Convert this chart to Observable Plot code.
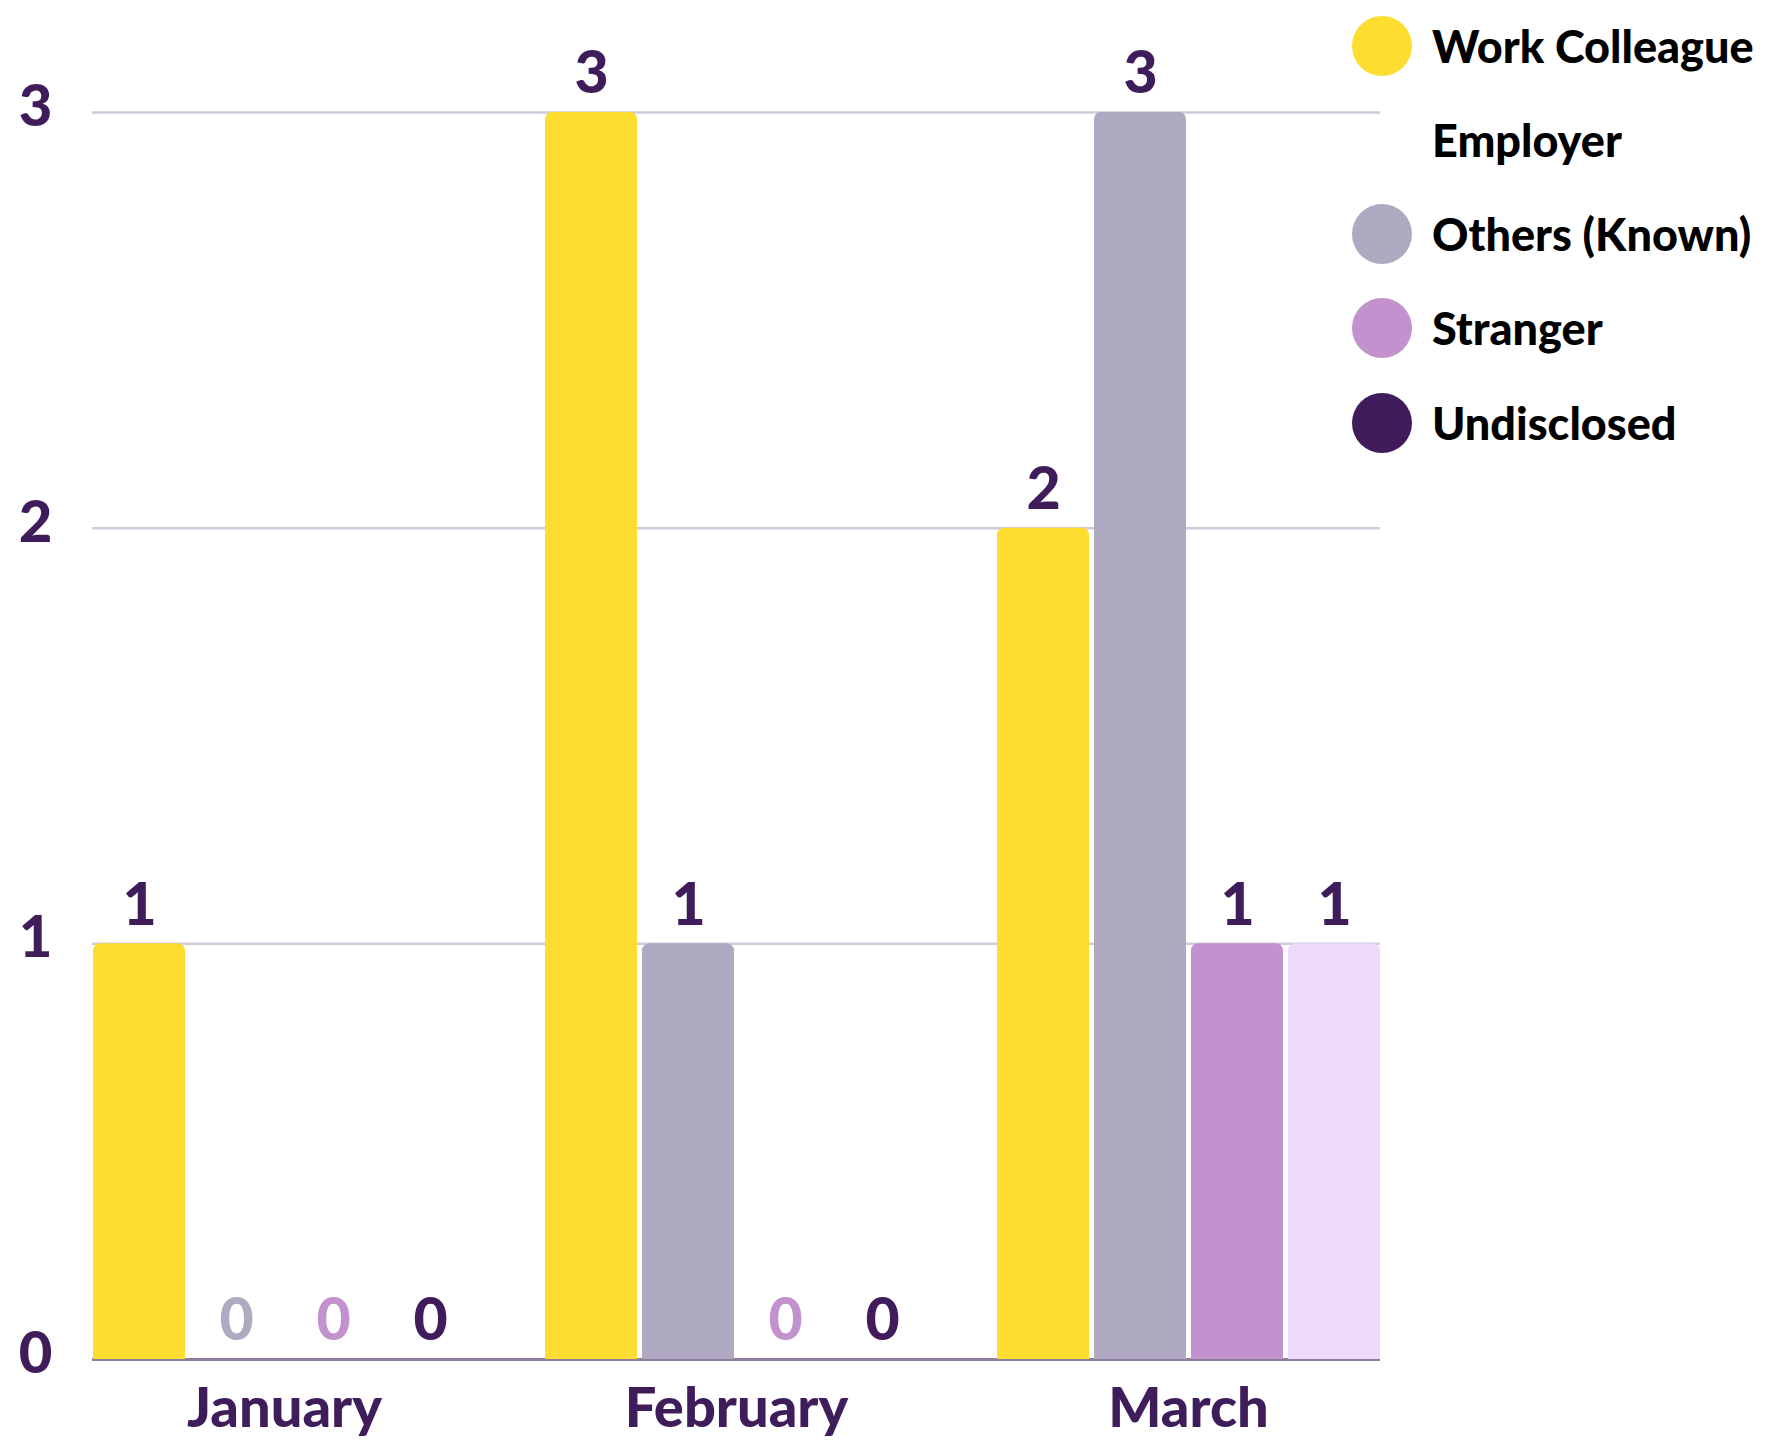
<!DOCTYPE html>
<html><head><meta charset="utf-8">
<script src="https://cdn.jsdelivr.net/npm/d3@7"></script>
<script src="https://cdn.jsdelivr.net/npm/@observablehq/plot@0.6"></script>
<style>
body{margin:0;background:#fff;}
#wrap{position:relative;width:1780px;height:1440px;font-family:Lato, sans-serif;overflow:hidden;}
#legend{position:absolute;left:1352px;top:0;}
.row{position:absolute;left:0;height:60px;display:flex;align-items:center;white-space:nowrap;}
.sw{width:60px;height:60px;border-radius:50%;margin-right:20px;flex:none;}
.lab{font-size:45px;font-weight:900;color:#000;line-height:60px;}
</style></head><body><div id="wrap"><div id="chart"></div><div id="legend"></div></div>
<script>
const months = ["January", "February", "March"];
const seriesNames = ["Work Colleague", "Employer", "Others (Known)", "Stranger", "Undisclosed"];
const workColleague = [1, 3, 2];
const employer = [null, null, null];
const othersKnown = [0, 1, 3];
const stranger = [0, 0, 1];
const undisclosed = [0, 0, 1];
const yTicks = [0, 1, 2, 3];

const seriesColors = ["#FDDE30", "transparent", "#AFAAC2", "#C291CE", "#401C5C"];
const undisclosedBarColors = ["#401C5C", "#401C5C", "#EDD9FA"];
const textColor = "#3F1D5B";

const seriesValues = [workColleague, employer, othersKnown, stranger, undisclosed];
const rows = [];
seriesNames.forEach((s, si) => {
  months.forEach((m, mi) => {
    const v = seriesValues[si][mi];
    if (v == null) return;
    rows.push({
      month: m, series: s, value: v,
      barFill: s === "Undisclosed" ? undisclosedBarColors[mi] : seriesColors[si],
      labelFill: v > 0 ? textColor : seriesColors[si]
    });
  });
});
const barSeries = seriesNames.filter(s => rows.some(r => r.series === s));

const W = 1780, ML = 91, MR = 398;
const fxPad = 0.15;
const facetGap = (W - ML - MR) / (months.length - fxPad) * fxPad;
const gridRows = months.flatMap(m => yTicks.map(t => ({month: m, tick: t})));
const notLast = r => r.month !== months[months.length - 1];
const isLast = r => r.month === months[months.length - 1];

function rules(filter, inset) {
  return [
    Plot.ruleY(gridRows.filter(r => filter(r) && r.tick > 0), {fx: "month", y: "tick", stroke: "#D2CADB", strokeWidth: 2.5, insetRight: inset}),
    Plot.ruleY(gridRows.filter(r => filter(r) && r.tick === 0), {fx: "month", y: "tick", stroke: "#8E7C9E", strokeWidth: 3, insetRight: inset})
  ];
}

const chart = Plot.plot({
  width: W, height: 1440,
  marginLeft: ML, marginRight: MR, marginTop: 112, marginBottom: 81,
  fx: {domain: months, paddingInner: fxPad, paddingOuter: 0, label: null, axis: null},
  x: {domain: barSeries, paddingInner: 0.056, paddingOuter: 0, axis: null},
  y: {domain: [0, 3], axis: null},
  color: {type: "identity"},
  style: {fontFamily: "Lato, sans-serif", background: "#fff"},
  marks: [
    ...rules(notLast, -facetGap),
    ...rules(isLast, 0),
    Plot.barY(rows, {fx: "month", x: "series", y: "value", fill: "barFill", ry1: 7}),
    Plot.text(rows, {fx: "month", x: "series", y: "value", text: d => String(d.value), fill: "labelFill", dy: -38, fontSize: 59, fontWeight: 900}),
    Plot.axisY(yTicks, {anchor: "left", tickSize: 0, tickPadding: 40, fontSize: 58, fontWeight: 900, fill: textColor, dy: -5, tickFormat: d => String(d)}),
    Plot.axisFx({anchor: "bottom", tickSize: 0, tickPadding: 28, fontSize: 56, fontWeight: 900, fill: textColor, label: null})
  ]
});
document.getElementById("chart").appendChild(chart);

const legend = document.getElementById("legend");
seriesNames.forEach((s, i) => {
  const row = document.createElement("div");
  row.className = "row";
  row.style.top = (45.5 + 94.3 * i - 30) + "px";
  const sw = document.createElement("div");
  sw.className = "sw";
  sw.style.background = seriesColors[i];
  const lab = document.createElement("div");
  lab.className = "lab";
  lab.textContent = s;
  row.appendChild(sw); row.appendChild(lab);
  legend.appendChild(row);
});
</script></body></html>
